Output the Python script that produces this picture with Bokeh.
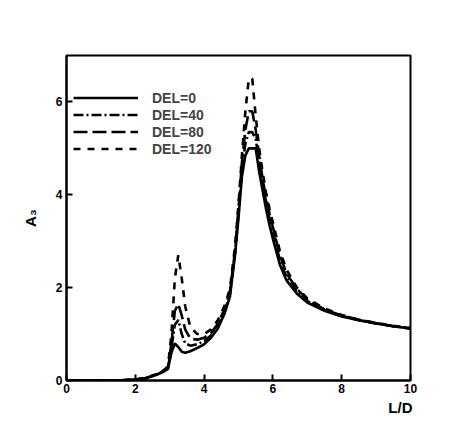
from bokeh.plotting import figure
from bokeh.models import Range1d, Legend, LegendItem, Title
from bokeh.embed import file_html
from bokeh.resources import INLINE

x = [0.0, 0.5, 1.0, 1.5, 2.0, 2.3, 2.6, 2.8, 2.95, 3.05, 3.15, 3.25, 3.35, 3.45,
     3.6, 3.8, 4.0, 4.2, 4.4, 4.6, 4.75, 4.9, 5.0, 5.1, 5.2, 5.3, 5.4, 5.5, 5.6,
     5.7, 5.8, 5.9, 6.0, 6.2, 6.4, 6.7, 7.0, 7.5, 8.0, 8.5, 9.0, 9.5, 10.0]

del0 = [0, 0, 0, 0, 0.02, 0.05, 0.12, 0.18, 0.25, 0.6, 0.8, 0.72, 0.62, 0.6,
        0.63, 0.7, 0.78, 0.92, 1.12, 1.45, 1.8, 2.7, 3.5, 4.4, 4.85, 5.0, 5.0, 5.0, 4.5,
        4.1, 3.7, 3.35, 3.05, 2.5, 2.15, 1.87, 1.68, 1.5, 1.38, 1.3, 1.23, 1.17, 1.12]
del40 = [0, 0, 0, 0, 0.02, 0.05, 0.12, 0.19, 0.27, 0.7, 1.2, 1.3, 1.0, 0.8,
         0.75, 0.78, 0.85, 0.97, 1.17, 1.5, 1.85, 2.75, 3.6, 4.55, 5.1, 5.35, 5.35, 5.2, 4.7,
         4.25, 3.85, 3.5, 3.2, 2.6, 2.22, 1.92, 1.71, 1.52, 1.39, 1.3, 1.23, 1.17, 1.12]
del80 = [0, 0, 0, 0, 0.02, 0.05, 0.13, 0.2, 0.28, 0.8, 1.5, 1.65, 1.4, 1.1,
         0.9, 0.88, 0.92, 1.02, 1.22, 1.55, 1.9, 2.8, 3.7, 4.7, 5.4, 5.8, 5.8, 5.4, 4.85,
         4.35, 3.95, 3.6, 3.3, 2.7, 2.3, 1.97, 1.74, 1.53, 1.4, 1.31, 1.23, 1.17, 1.12]
del120 = [0, 0, 0, 0, 0.02, 0.06, 0.13, 0.21, 0.3, 1.0, 2.2, 2.7, 2.2, 1.6,
          1.15, 1.0, 1.0, 1.1, 1.3, 1.62, 1.97, 2.9, 3.8, 4.85, 5.8, 6.5, 6.5, 5.7, 5.0,
          4.5, 4.05, 3.7, 3.4, 2.8, 2.38, 2.0, 1.77, 1.55, 1.41, 1.31, 1.24, 1.18, 1.13]

labels = ["DEL=0", "DEL=40", "DEL=80", "DEL=120"]
x_ticks = [0, 2, 4, 6, 8, 10]
y_ticks = [0, 2, 4, 6]

p = figure(width=455, height=416, output_backend="svg", toolbar_location=None,
           x_range=Range1d(0, 10), y_range=Range1d(0, 7),
           min_border_left=66, min_border_right=45, min_border_top=55, min_border_bottom=10)
p.grid.visible = False
p.outline_line_color = "black"
p.outline_line_width = 2

for ax in (p.xaxis[0], p.yaxis[0]):
    ax.axis_line_width = 2
    ax.axis_line_color = "black"
    ax.major_tick_in = 6
    ax.major_tick_out = 0
    ax.minor_tick_in = 3
    ax.minor_tick_out = 0
    ax.major_tick_line_width = 2
    ax.major_label_text_font = "Liberation Sans"
    ax.major_label_text_font_style = "bold"
    ax.major_label_text_color = "black"
    ax.major_label_text_font_size = "12px"
p.xaxis.ticker = x_ticks
p.yaxis.ticker = y_ticks
p.xaxis.ticker.num_minor_ticks = 5
p.yaxis.ticker.num_minor_ticks = 5
p.xaxis.major_label_standoff = 3
p.yaxis.major_label_standoff = 4

p.yaxis.axis_label = "A\u2083"
p.yaxis.axis_label_text_font = "Liberation Sans"
p.yaxis.axis_label_text_font_style = "bold"
p.yaxis.axis_label_text_font_size = "15px"
p.yaxis.axis_label_text_color = "black"
p.yaxis.axis_label_standoff = 14

lw = 2.6
r0 = p.line(x, del0, line_color="black", line_width=lw)
r1 = p.line(x, del40, line_color="black", line_width=lw, line_dash="10 3 2 3")
r2 = p.line(x, del80, line_color="black", line_width=lw, line_dash="14 5")
r3 = p.line(x, del120, line_color="black", line_width=lw, line_dash="7 7")

legend = Legend(items=[LegendItem(label=l, renderers=[r]) for l, r in zip(labels, [r0, r1, r2, r3])],
                location=(7, 223), padding=0, margin=0, spacing=0,
                glyph_width=65, glyph_height=17, label_height=17, label_standoff=14,
                label_text_font="Liberation Sans", label_text_font_style="bold",
                label_text_font_size="14px", border_line_color=None, background_fill_alpha=0)
p.add_layout(legend)

xt = Title(text="L/D", align="right", text_font="Liberation Sans", text_font_style="bold",
           text_font_size="15px", text_color="black", standoff=2, offset=-2)
p.add_layout(xt, "below")

open("out.html", "w").write(file_html(p, INLINE))
